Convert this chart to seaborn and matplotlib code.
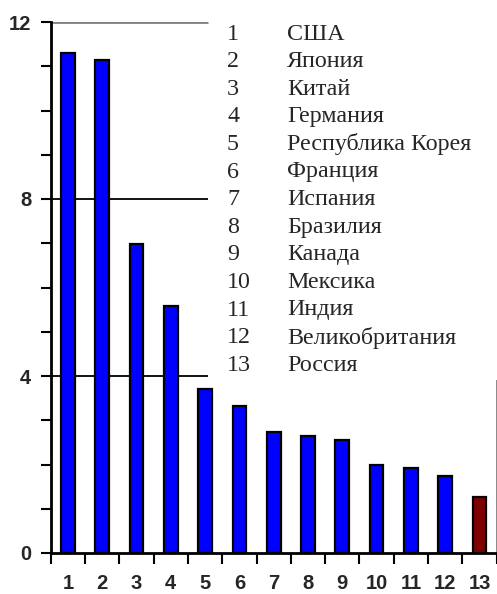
import numpy as np
import pandas as pd
import matplotlib.pyplot as plt
import seaborn as sns

ranks = [str(i) for i in range(1, 14)]
countries = ['США', 'Япония', 'Китай', 'Германия', 'Республика Корея', 'Франция',
             'Испания', 'Бразилия', 'Канада', 'Мексика', 'Индия',
             'Великобритания', 'Россия']
values = [11.3, 11.13, 6.98, 5.58, 3.71, 3.32, 2.73, 2.64, 2.55, 2.0, 1.91, 1.73, 1.27]
highlight = ['other'] * 12 + ['russia']

df = pd.DataFrame({'rank': ranks, 'value': values, 'group': highlight})

sns.set_style('white')
plt.rcParams['font.family'] = ['Liberation Sans', 'DejaVu Sans']
plt.rcParams['font.weight'] = 'bold'

fig = plt.figure(figsize=(4.97, 5.94), dpi=100)
ax = fig.add_axes([50.7 / 497, 1 - 553 / 594, 446 / 497, 531 / 594])

# gridlines, cut where the white country list sits
ax.hlines([4, 8], -0.5, 4.09, colors='black', linewidth=1.3, zorder=1)
ax.hlines([12], -0.5, 4.09, colors='gray', linewidth=2, zorder=1)
ax.vlines([12.5], 0, 3.9, colors='gray', linewidth=1.3, zorder=1)

sns.barplot(data=df, x='rank', y='value', hue='group',
            palette={'other': '#0000FF', 'russia': '#7F0000'}, saturation=1,
            width=0.4, edgecolor='black', linewidth=1.6, legend=False,
            ax=ax, zorder=3)

ax.set_xlim(-0.5, 12.5)
ax.set_ylim(0, 12)
ax.set_xlabel('')
ax.set_ylabel('')

for s in ['top', 'right']:
    ax.spines[s].set_visible(False)
for s in ['left', 'bottom']:
    ax.spines[s].set_color('black')
    ax.spines[s].set_linewidth(2)

ax.set_yticks([0, 4, 8, 12])
ax.set_yticks(np.arange(0, 13, 1), minor=True)
ax.set_xticks(np.arange(-0.5, 13, 1), minor=True)
ax.tick_params(axis='y', which='both', direction='out', length=7, width=1.5,
               color='black', left=True, pad=7, labelsize=14.5)
ax.tick_params(axis='x', which='major', length=0, pad=15, labelsize=14.5)
ax.tick_params(axis='x', which='minor', direction='out', length=8, width=1.5,
               color='black', bottom=True)

# country list
for i, (r, c) in enumerate(zip(ranks, countries)):
    y = 1 - (34 + i * 27.6) / 594
    fig.text(227 / 497, y, r, family='Liberation Serif', fontsize=17.3,
             weight='normal', va='center', ha='left')
    fig.text(287 / 497, y, c, family='Liberation Serif', fontsize=17.3,
             weight='normal', va='center', ha='left')

plt.savefig('out.png', dpi=100)
